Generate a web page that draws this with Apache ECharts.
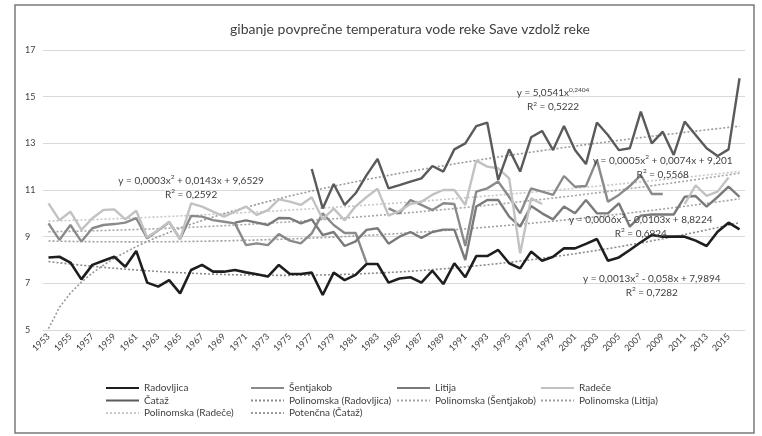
<!DOCTYPE html>
<html><head><meta charset="utf-8">
<script src="https://cdn.jsdelivr.net/npm/echarts@6/dist/echarts.min.js"></script>
<style>html,body{margin:0;padding:0;background:#fff}#c{width:762px;height:436px}</style>
</head><body><div id="c"></div>
<script>
const years = ['1953','1954','1955','1956','1957','1958','1959','1960','1961','1962','1963','1964','1965','1966','1967','1968','1969','1970','1971','1972','1973','1974','1975','1976','1977','1978','1979','1980','1981','1982','1983','1984','1985','1986','1987','1988','1989','1990','1991','1992','1993','1994','1995','1996','1997','1998','1999','2000','2001','2002','2003','2004','2005','2006','2007','2008','2009','2010','2011','2012','2013','2014','2015','2016'];

const radovljica = [8.11,8.14,7.89,7.17,7.79,7.97,8.14,7.71,8.39,7.03,6.86,7.14,6.57,7.57,7.79,7.5,7.5,7.57,7.47,7.39,7.29,7.79,7.4,7.4,7.46,6.5,7.46,7.14,7.36,7.83,7.83,7.03,7.21,7.26,7.03,7.54,6.97,7.86,7.26,8.17,8.17,8.43,7.86,7.64,8.36,7.97,8.14,8.5,8.5,8.69,8.9,7.97,8.11,8.43,8.76,9.07,9.0,9.0,9.0,8.83,8.6,9.21,9.6,9.31];

const sentjakob = [9.57,8.86,9.5,8.79,9.36,9.5,9.54,9.6,9.79,8.93,9.27,9.62,8.9,9.89,9.86,9.71,9.64,9.57,8.64,8.71,8.64,9.11,8.83,8.71,9.14,10.0,9.5,9.16,9.16,7.87,null,10.21,10.0,10.57,10.36,10.14,10.43,10.4,8.6,10.93,11.07,11.36,10.7,10.0,11.07,10.93,10.79,11.6,11.14,11.17,12.29,10.5,10.79,11.17,11.64,10.83,10.83,null,null,null,null,null,null,null];

const litija = [null,null,null,null,null,null,null,null,null,null,null,null,null,null,null,null,null,9.6,9.7,9.6,9.5,9.8,9.79,9.57,9.74,9.07,9.2,8.6,8.8,9.29,9.36,8.7,9.0,9.2,8.95,9.2,9.3,9.3,8.0,10.29,10.57,10.57,9.86,9.43,10.31,10.0,9.74,10.29,10.0,10.57,10.0,10.0,10.43,9.43,9.9,9.95,9.95,9.95,10.71,10.74,10.29,10.7,11.14,10.71];

const radece = [10.43,9.71,10.07,9.29,9.79,10.14,10.17,9.74,10.11,8.97,9.29,9.64,8.89,10.43,10.29,10.07,9.86,10.07,10.29,9.93,10.14,10.6,10.5,10.36,10.69,9.75,10.2,9.7,10.3,10.7,11.05,9.9,10.1,10.4,10.5,10.8,11.0,11.0,10.36,12.26,12.0,11.93,11.5,8.29,10.64,10.4,null,null,null,null,null,null,null,null,null,null,null,null,10.4,11.2,10.75,10.93,11.54,null];

const cataz = [null,null,null,null,null,null,null,null,null,null,null,null,null,null,null,null,null,null,null,null,null,null,null,null,11.9,10.21,11.26,10.36,10.86,11.64,12.33,11.07,11.21,11.36,11.5,12.03,11.79,12.74,13.0,13.74,13.89,11.43,12.74,11.79,13.26,13.53,12.71,13.74,12.71,12.11,13.89,13.36,12.71,12.79,14.36,13.0,13.5,12.5,13.93,13.36,12.79,12.46,12.74,15.79];

// trendline coefficients as printed on the chart (x = 1..n)
const polyRadovljica = [0.0013, -0.058, 7.9894];
const polySentjakob = [0.0005, 0.0074, 9.201];
const polyLitija = [0.0006, -0.0103, 8.8224];
const polyRadece = [0.0003, 0.0143, 9.6529];
const powCataz = [5.0541, 0.2404];

const yTicks = [5, 7, 9, 11, 13, 15, 17];

function poly(c){ return years.map((_, i) => { const x = i + 1; return +(c[0]*x*x + c[1]*x + c[2]).toFixed(4); }); }
function pow(c){ return years.map((_, i) => +(c[0]*Math.pow(i + 1, c[1])).toFixed(4)); }

const FONT = 'Lato';
const chart = echarts.init(document.getElementById('c'), null, {renderer: 'canvas'});

function solid(name, data, color, w){
  return {name, type:'line', data, symbol:'none', connectNulls:false, lineStyle:{color, width:w}, itemStyle:{color}, z:3};
}
function trend(name, data, color, label){
  const s = {name, type:'line', data, symbol:'none', silent:true, lineStyle:{color, width:1.6, type:[2,2]}, itemStyle:{color}, z:2};
  if (label) {
    s.markPoint = {
      symbol:'circle', symbolSize:0, silent:true,
      data:[{coord:[label.x, label.y], value:0}],
      label:{show:true, position:'inside', formatter:label.text, color:'#404040', fontFamily:FONT, fontSize:10, lineHeight:14, align:'center',
        rich:{s:{fontSize:6.5, verticalAlign:'top', color:'#404040', fontFamily:FONT, padding:[0,0,4,0]}}}
    };
  }
  return s;
}

const option = {
  animation:false,
  backgroundColor:'#ffffff',
  title:{text:'gibanje povprečne temperatura vode reke Save vzdolž reke', left:405, textAlign:'center', top:17,
    textStyle:{fontFamily:FONT, fontSize:14, fontWeight:'normal', color:'#404040'}},
  grid:{left:43, right:17, top:50, bottom:106, containLabel:false},
  xAxis:{type:'category', data:years, boundaryGap:true,
    axisLine:{show:true, lineStyle:{color:'#d9d9d9', width:1}}, axisTick:{show:false},
    axisLabel:{interval:1, rotate:45, fontFamily:FONT, fontSize:9, color:'#404040', margin:5}},
  yAxis:{type:'value', min:yTicks[0], max:yTicks[yTicks.length-1], interval:2,
    axisLine:{show:false}, axisTick:{show:false},
    splitLine:{lineStyle:{color:'#d9d9d9', width:1}},
    axisLabel:{fontFamily:FONT, fontSize:9, color:'#404040', margin:18, align:'left'}},
  legend:[
    {data:['Radovljica','Čataž','Polinomska (Radeče)'], left:100, top:377},
    {data:['Šentjakob','Polinomska (Radovljica)','Potenčna (Čataž)'], left:245, top:377},
    {data:['Litija','Polinomska (Šentjakob)'], left:391, top:377},
    {data:['Radeče','Polinomska (Litija)'], left:535, top:377}
  ].map(l => Object.assign(l, {orient:'vertical', itemWidth:33, itemHeight:10, itemGap:0.5,
     itemStyle:{opacity:0, borderWidth:0},
     textStyle:{fontFamily:FONT, fontSize:10, color:'#404040', lineHeight:12}, selectedMode:false})),
  series:[
    solid('Radovljica', radovljica, '#1e1e1e', 2.6),
    solid('Šentjakob', sentjakob, '#8a8a8a', 2.4),
    solid('Litija', litija, '#7a7a7a', 2.4),
    solid('Radeče', radece, '#c2c2c2', 2.4),
    solid('Čataž', cataz, '#5a5a5a', 2.4),
    trend('Polinomska (Radovljica)', poly(polyRadovljica), '#8c8c8c',
      {x:'2008', y:6.9, text:'y = 0,0013x{s|2} - 0,058x + 7,9894\nR{s|2} = 0,7282'}),
    trend('Polinomska (Šentjakob)', poly(polySentjakob), '#a6a6a6',
      {x:'2009', y:11.97, text:'y = 0,0005x{s|2} + 0,0074x + 9,201\nR{s|2} = 0,5568'}),
    trend('Polinomska (Litija)', poly(polyLitija), '#a0a0a0',
      {x:'2007', y:9.44, text:'y = 0,0006x{s|2} - 0,0103x + 8,8224\nR{s|2} = 0,6924'}),
    trend('Polinomska (Radeče)', poly(polyRadece), '#c8c8c8',
      {x:'1966', y:11.1, text:'y = 0,0003x{s|2} + 0,0143x + 9,6529\nR{s|2} = 0,2592'}),
    trend('Potenčna (Čataž)', pow(powCataz), '#9a9a9a',
      {x:'1999', y:14.86, text:'y = 5,0541x{s|0,2404}\nR{s|2} = 0,5222'})
  ],
  graphic:[{type:'rect', shape:{x:15, y:5, width:739, height:428}, style:{fill:'none', stroke:'#7a7a7a', lineWidth:1.5}, silent:true, z:100}]
};
chart.setOption(option);
</script></body></html>
